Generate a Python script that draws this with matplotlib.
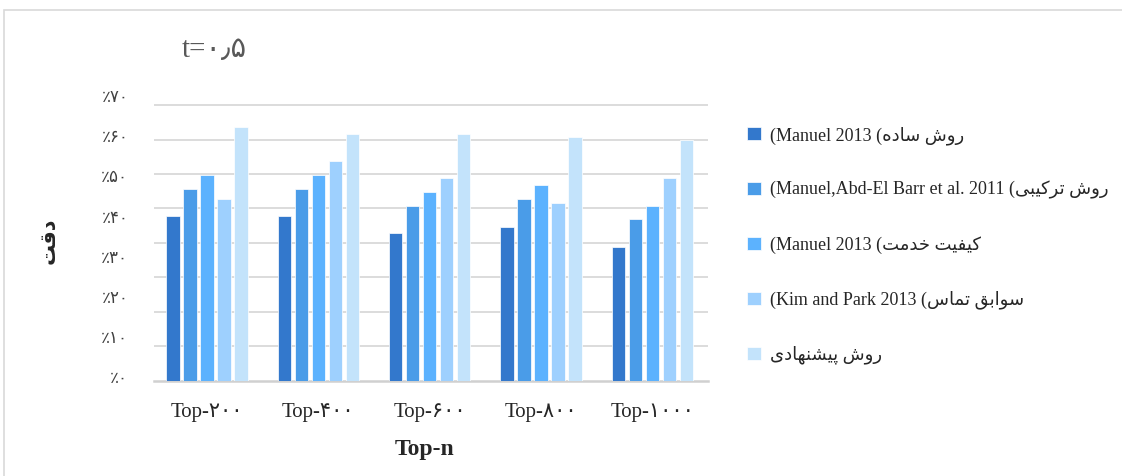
import matplotlib
matplotlib.use('Agg')

import numpy as np
import matplotlib.pyplot as plt
import matplotlib.transforms as mtransforms
from matplotlib.patches import Rectangle

# accuracy (percent) of each method for every Top-n cut
groups = ["Top-۲۰۰", "Top-۴۰۰", "Top-۶۰۰", "Top-۸۰۰", "Top-۱۰۰۰"]
simple_2013 = [41.0, 41.0, 36.7, 38.4, 33.3]
hybrid_2011 = [47.9, 47.9, 43.6, 45.3, 40.2]
qos_2013 = [51.3, 51.3, 47.0, 48.8, 43.6]
contact_2013 = [45.3, 54.7, 50.4, 44.4, 50.4]
proposed = [63.3, 61.6, 61.6, 60.7, 59.9]

y_ticks = [0, 10, 20, 30, 40, 50, 60, 70]
y_tick_labels = ["٪۰", "٪۱۰", "٪۲۰", "٪۳۰", "٪۴۰", "٪۵۰", "٪۶۰", "٪۷۰"]

colors = ["#3378CC", "#4A9CE8", "#5CB2FE", "#9ED0FE", "#C3E3FB"]

# contextual forms for the arabic letters used (isolated, final, initial, medial)
FORMS = {
   'ا': ('\uFE8D', '\uFE8E'),
   'د': ('\uFEA9', '\uFEAA'),
   'ر': ('\uFEAD', '\uFEAE'),
   'و': ('\uFEED', '\uFEEE'),
   'ب': ('\uFE8F', '\uFE90', '\uFE91', '\uFE92'),
   'پ': ('\uFB56', '\uFB57', '\uFB58', '\uFB59'),
   'ت': ('\uFE95', '\uFE96', '\uFE97', '\uFE98'),
   'خ': ('\uFEA5', '\uFEA6', '\uFEA7', '\uFEA8'),
   'س': ('\uFEB1', '\uFEB2', '\uFEB3', '\uFEB4'),
   'ش': ('\uFEB5', '\uFEB6', '\uFEB7', '\uFEB8'),
   'ف': ('\uFED1', '\uFED2', '\uFED3', '\uFED4'),
   'ق': ('\uFED5', '\uFED6', '\uFED7', '\uFED8'),
   'ک': ('\uFB8E', '\uFB8F', '\uFB90', '\uFB91'),
   'م': ('\uFEE1', '\uFEE2', '\uFEE3', '\uFEE4'),
   'ن': ('\uFEE5', '\uFEE6', '\uFEE7', '\uFEE8'),
   'ه': ('\uFEE9', '\uFEEA', '\uFEEB', '\uFEEC'),
   'ی': ('\uFBFC', '\uFBFD', '\uFBFE', '\uFBFF'),
}

def fa(text):
   # shape the letters and put them in visual (left to right) order
   out = []
   n = len(text)
   for i, ch in enumerate(text):
      if ch not in FORMS:
         out.append(ch)
         continue
      forms = FORMS[ch]
      prev = text[i-1] if i > 0 else ''
      nxt = text[i+1] if i+1 < n else ''
      join_prev = prev in FORMS and len(FORMS[prev]) == 4
      join_next = len(forms) == 4 and nxt in FORMS
      if join_prev and join_next:
         out.append(forms[3])
      elif join_prev:
         out.append(forms[1])
      elif join_next:
         out.append(forms[2])
      else:
         out.append(forms[0])
   return ''.join(out)[::-1]

labels = [
   "(Manuel 2013 (" + fa("روش ساده"),
   "(Manuel,Abd-El Barr et al. 2011 (" + fa("روش ترکیبی"),
   "(Manuel 2013 (" + fa("کیفیت خدمت"),
   "(Kim and Park 2013 (" + fa("سوابق تماس"),
   fa("روش پیشنهادی"),
]
series = [simple_2013, hybrid_2011, qos_2013, contact_2013, proposed]

serif = ['Liberation Serif', 'DejaVu Sans']

fig = plt.figure(figsize=(11.22, 4.76), dpi=100)
ax = fig.add_axes([0.1373, 0.2002, 0.4937, 0.6002])

x = np.arange(len(groups))
width = 0.12
step = 0.153
for i, (vals, col, lab) in enumerate(zip(series, colors, labels)):
   ax.bar(x + (i - 2) * step, vals, width, color=col, label=lab,
          edgecolor='white', linewidth=0.5, zorder=3)

ax.set_xlim(-0.475, 4.5)
ax.set_ylim(0, 71.2)

# gridlines follow their own spacing, tick labels sit at the percent values
grid_step = 8.585
ax.set_yticks([grid_step * k for k in range(1, 9)], minor=True)
ax.yaxis.grid(True, which='minor', color='#D9D9D9', linewidth=1.3, zorder=0)
ax.set_yticks(y_ticks)
ax.set_yticklabels(y_tick_labels, family=['DejaVu Sans'], fontsize=12, color='#404040')
ax.tick_params(axis='y', which='both', length=0, pad=18.5)
offset = mtransforms.ScaledTranslation(0, 4.7/100., fig.dpi_scale_trans)
for lbl in ax.get_yticklabels():
   lbl.set_transform(lbl.get_transform() + offset)

ax.set_xticks(x)
ax.set_xticklabels(groups, family=serif, fontsize=15, color='#262626')
ax.tick_params(axis='x', length=0, pad=16)

for s in ['top', 'right', 'left']:
   ax.spines[s].set_visible(False)
ax.spines['bottom'].set_color('#D0D0D0')
ax.spines['bottom'].set_linewidth(1.8)

fig.text(425/1122., 1 - 449/476., "Top-n", family=serif, fontsize=17, fontweight='bold',
         ha='center', va='center', color='#262626')
fig.text(48/1122., 1 - 241/476., fa("دقت"), family=['DejaVu Sans'], fontsize=15,
         fontweight='bold', rotation=90, ha='center', va='center', color='#262626')
fig.text(182/1122., 1 - 50/476., "t=۰٫۵", family=serif, fontsize=21,
         ha='left', va='center', color='#595959')

leg = fig.legend(loc='upper left', bbox_to_anchor=(747/1122., 1 - 126/476.),
                 frameon=False, prop={'family': serif, 'size': 13},
                 handlelength=0.75, handleheight=0.75, handletextpad=0.55,
                 labelspacing=2.03, borderpad=0, borderaxespad=0)
for t in leg.get_texts():
   t.set_color('#262626')

# light frame along the top and left edge
fig.patches.append(Rectangle((4/1122., -0.2), 1.2, 1.2 - 10/476.,
                             transform=fig.transFigure, fill=False,
                             edgecolor='#D9D9D9', linewidth=1.2))

plt.savefig('out.png', dpi=100)
